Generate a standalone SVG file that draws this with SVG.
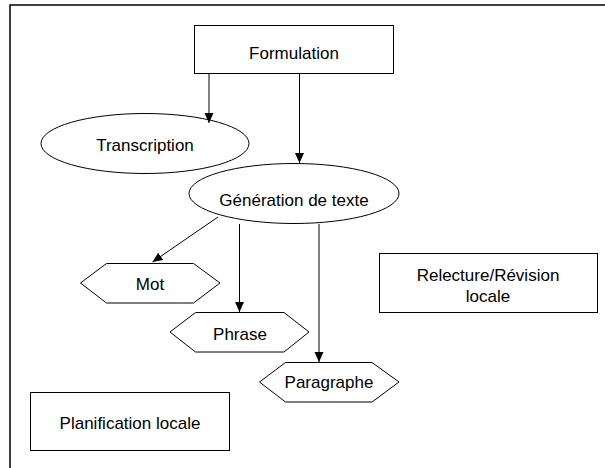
<svg xmlns="http://www.w3.org/2000/svg" width="605" height="468" viewBox="0 0 605 468">
<style>
.shape{fill:#fff;stroke:#000;stroke-width:1}
.lbl{font-family:"Liberation Sans",Arial,sans-serif;font-size:17px;fill:#000;text-anchor:middle}
.conn{stroke:#000;stroke-width:1;fill:none;marker-end:url(#arr)}
</style>
<defs>
<marker id="arr" markerUnits="userSpaceOnUse" markerWidth="10" markerHeight="10" refX="10" refY="5" orient="auto">
<path d="M0,0.5 L10,5 L0,9.5 z" fill="#000"/>
</marker>
</defs>
<rect width="605" height="468" fill="#fff"/>
<g id="frame">
<path d="M10,468 L10,5 L605,5" fill="none" stroke="#000" stroke-width="1.5"/>
</g>
<g id="formulation">
<rect class="shape" x="194.5" y="25.5" width="199" height="48"/>
<text class="lbl" x="294" y="59">Formulation</text>
</g>
<g id="transcription">
<ellipse class="shape" cx="145" cy="143.5" rx="104" ry="30"/>
<text class="lbl" x="145" y="150.5">Transcription</text>
</g>
<g id="generation">
<ellipse class="shape" cx="294" cy="193.5" rx="105" ry="30"/>
<text class="lbl" x="294" y="205.5">Génération de texte</text>
</g>
<g id="mot">
<polygon class="shape" points="80.5,283 106.5,263.5 193.5,263.5 220,283 193.5,303 106.5,303"/>
<text class="lbl" x="150" y="289.5">Mot</text>
</g>
<g id="phrase">
<polygon class="shape" points="170,332 195.5,312.5 284,312.5 309,332 284,352 195.5,352"/>
<text class="lbl" x="240" y="339.5">Phrase</text>
</g>
<g id="paragraphe">
<polygon class="shape" points="259.5,382 285.5,362.5 372,362.5 399,382 372,402 285.5,402"/>
<text class="lbl" x="329" y="387.5">Paragraphe</text>
</g>
<g id="relecture">
<rect class="shape" x="379.5" y="253.5" width="218" height="59"/>
<text class="lbl" x="488" y="281">Relecture/Révision</text>
<text class="lbl" x="488" y="302">locale</text>
</g>
<g id="planification">
<rect class="shape" x="30.5" y="392.5" width="199" height="58"/>
<text class="lbl" x="130" y="429">Planification locale</text>
</g>
<g id="connectors">
<line class="conn" x1="209" y1="74" x2="209" y2="123"/>
<line class="conn" x1="299.5" y1="74" x2="299.5" y2="163"/>
<line class="conn" x1="218" y1="217" x2="152.5" y2="262"/>
<line class="conn" x1="239.5" y1="224" x2="239.5" y2="312"/>
<line class="conn" x1="319" y1="224" x2="319" y2="362"/>
</g>
</svg>
